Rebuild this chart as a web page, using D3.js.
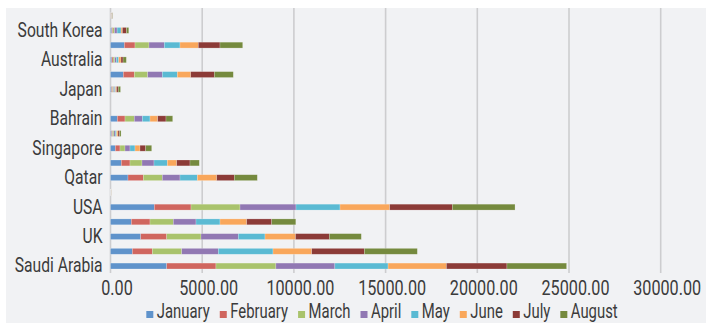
<!DOCTYPE html>
<html>
<head>
<meta charset="utf-8">
<script src="https://cdn.jsdelivr.net/npm/d3@7"></script>
<style>
  html, body { margin: 0; padding: 0; background: #ffffff; }
  svg { display: block; }
  text { font-family: Roboto, "Liberation Sans", sans-serif; fill: #3b3b3b; }
</style>
</head>
<body>
<svg id="chart" width="706" height="323"></svg>
<script>
// Categories listed bottom -> top (Excel order). Unlabelled rows are not named in the picture.
const categories = ["Saudi Arabia", "Unlabelled 1", "UK", "Unlabelled 2", "USA", "Unlabelled 3", "Qatar", "Unlabelled 4",
  "Singapore", "Unlabelled 5", "Bahrain", "Unlabelled 6", "Japan", "Unlabelled 7", "Australia", "Unlabelled 8",
  "South Korea", "Unlabelled 9"];
const shownLabels = ["Saudi Arabia", "UK", "USA", "Qatar", "Singapore", "Bahrain", "Japan", "Australia", "South Korea"];

const months = ["January", "February", "March", "April", "May", "June", "July", "August"];
const january  = [3065, 1189, 1647, 1134, 2388, 5,  954, 589, 262, 60, 371, 0,  55, 698,  70,  753,  70, 12];
const february = [2685, 1090, 1418, 1020, 2002, 5,  835, 474, 256, 55, 420, 0,  55, 600,  70,  583,  55, 10];
const march    = [3268, 1604, 1870, 1270, 2672, 5, 1036, 655, 273, 70, 507, 0,  55, 730,  90,  763,  90, 14];
const april    = [3214, 1995, 2034, 1238, 3053, 5,  965, 654, 272, 75, 436, 0,  55, 797,  90,  835, 145, 12];
const may      = [2903, 2983, 1456, 1309, 2400, 5,  943, 725, 273, 70, 420, 0,  55, 818, 127,  856, 218, 15];
const june     = [3181, 2110, 1663, 1456, 2710, 5, 1058, 513, 273, 80, 420, 0,  55, 730, 127,  998,  73, 14];
const july     = [3301, 2869, 1843, 1363, 3413, 5,  960, 725, 310, 85, 452, 0,  90, 1287, 110, 1183, 218, 18];
const august   = [3252, 2890, 1745, 1314, 3419, 5, 1254, 507, 328, 80, 366, 0, 127, 1036, 180, 1238, 127, 15];
const xTicks = [0, 5000, 10000, 15000, 20000, 25000, 30000];

const seriesValues = [january, february, march, april, may, june, july, august];
const colors = ["#5f93cb", "#d0665f", "#a9c36c", "#9178b3", "#5abad3", "#f9a75b", "#8c3b37", "#758a3e"];

const table = categories.map((c, i) => {
  const row = { category: c };
  months.forEach((m, j) => { row[m] = seriesValues[j][i]; });
  return row;
});

const svg = d3.select("#chart");
const W = 706, H = 323;
const FS = 20;

// condensed look: measure a reference string and squeeze glyphs horizontally
function factor(str, target) {
  const probe = svg.append("text").attr("font-size", FS).text(str);
  const k = target / probe.node().getComputedTextLength();
  probe.remove();
  return k;
}
const K_LABEL = factor("South Korea", 85);
const K_NUM = factor("10000.00", 68);
const K_LEG = factor("January", 53);

// chart background
svg.append("rect").attr("x", 6).attr("y", 8).attr("width", W - 6).attr("height", H - 8).attr("fill", "#f1f2f4");

const x = d3.scaleLinear().domain([0, 30000]).range([110.5, 660.7]);
const y = d3.scaleBand().domain(categories.slice().reverse()).range([8.3, 273.4]).paddingInner(0.6).paddingOuter(0.3);

// gridlines
svg.append("g").selectAll("line").data(xTicks).join("line")
  .attr("x1", d => x(d)).attr("x2", d => x(d))
  .attr("y1", 8).attr("y2", 273)
  .attr("stroke", "#cdcdcf").attr("stroke-width", 1.6);

// stacked bars
const stack = d3.stack().keys(months);
const layers = stack(table);
svg.append("g").selectAll("g").data(layers).join("g")
  .attr("fill", (d, i) => colors[i])
  .selectAll("rect").data(d => d).join("rect")
  .attr("x", d => x(d[0]))
  .attr("width", d => Math.max(0, x(d[1]) - x(d[0])))
  .attr("y", d => y(d.data.category))
  .attr("height", y.bandwidth())
  .attr("stroke", "rgba(255,255,255,0.35)").attr("stroke-width", 0.6);

// x axis labels
const xAxis = d3.axisBottom(x).tickValues(xTicks).tickFormat(d3.format(".2f")).tickSize(0).tickPadding(0);
const gx = svg.append("g").attr("transform", "translate(6,281)").call(xAxis);
gx.select(".domain").remove();
gx.selectAll("text").attr("font-size", FS).attr("fill", "#3b3b3b").attr("font-family", null)
  .attr("dy", "0.71em").attr("transform", `scale(${K_NUM},1)`);

// y axis labels (every other category)
const yAxis = d3.axisLeft(y).tickValues(shownLabels).tickSize(0).tickPadding(8);
const gy = svg.append("g").attr("transform", `translate(${x(0)},0)`).call(yAxis);
gy.select(".domain").remove();
gy.selectAll("text").attr("font-size", FS).attr("fill", "#3b3b3b").attr("font-family", null)
  .attr("x", -8 / K_LABEL).attr("transform", `scale(${K_LABEL},1)`);

// legend
const legend = svg.append("g").attr("transform", "translate(0,318)");
const items = legend.selectAll("g").data(months).join("g");
items.append("rect").attr("width", 7).attr("height", 7).attr("y", -7).attr("fill", (d, i) => colors[i]);
items.append("text").attr("font-size", FS).text(d => d)
  .attr("transform", `translate(10.5,0) scale(${K_LEG},1)`);
let cx = 0;
const offsets = [];
const GAP = 10;
items.each(function () {
  offsets.push(cx);
  const w = d3.select(this).select("text").node().getComputedTextLength() * K_LEG;
  cx += 10.5 + w + GAP;
});
const total = cx - GAP;
const start = 382 - total / 2;
items.attr("transform", (d, i) => `translate(${start + offsets[i]},0)`);
</script>
</body>
</html>
